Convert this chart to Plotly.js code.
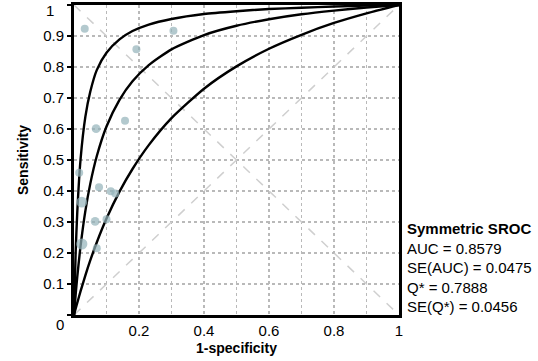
<!DOCTYPE html>
<html>
<head>
<meta charset="utf-8">
<script src="https://cdn.plot.ly/plotly-3.0.1.min.js"></script>
<style>html,body{margin:0;padding:0;background:#fff;}#chart{width:538px;height:361px;}</style>
</head>
<body>
<div id="chart"></div>
<script>
// Study points (1-specificity, sensitivity)
const studyFpr  = [0.033, 0.192, 0.306, 0.068, 0.157, 0.016, 0.077, 0.113, 0.127, 0.024, 0.065, 0.100, 0.024, 0.070];
const studySens = [0.923, 0.857, 0.917, 0.601, 0.627, 0.459, 0.412, 0.399, 0.392, 0.364, 0.302, 0.309, 0.229, 0.215];
const studyWeight = [1, 1, 1, 1.1, 1, 1, 1, 1, 1, 1.35, 1.1, 1, 1.4, 1];

// SROC curves
const curveX     = [0, 0.005, 0.01, 0.02, 0.035, 0.05, 0.07, 0.10, 0.14, 0.18, 0.23, 0.30, 0.40, 0.50, 0.60, 0.70, 0.80, 0.90, 1];
const upperCurve = [0, 0.20, 0.33, 0.50, 0.64, 0.72, 0.79, 0.846, 0.889, 0.916, 0.937, 0.955, 0.971, 0.980, 0.987, 0.991, 0.995, 0.998, 1];
const midCurve   = [0, 0.065, 0.123, 0.221, 0.336, 0.423, 0.512, 0.608, 0.694, 0.754, 0.806, 0.857, 0.903, 0.933, 0.954, 0.970, 0.982, 0.992, 1];
const lowerCurve = [0, 0.02, 0.039, 0.076, 0.128, 0.176, 0.234, 0.311, 0.398, 0.471, 0.548, 0.635, 0.730, 0.802, 0.859, 0.904, 0.942, 0.973, 1];

// Axis ticks
const tickVals = [0, 0.1, 0.2, 0.3, 0.4, 0.5, 0.6, 0.7, 0.8, 0.9, 1];
const xTickText = ['', '', '0.2', '', '0.4', '', '0.6', '', '0.8', '', '1'];
const yTickText = ['', '0.1', '0.2', '0.3', '0.4', '0.5', '0.6', '0.7', '0.8', '0.9', ''];

const statsLines = ['<b>Symmetric SROC</b>', 'AUC = 0.8579', 'SE(AUC) = 0.0475', 'Q* = 0.7888', 'SE(Q*) = 0.0456'];

const FONT = 'Liberation Sans, Arial, sans-serif';
const gridColor = '#b9b9b9';
const diagStyle = {color: '#cfcfcf', width: 1.5, dash: 'dash'};
const curveStyle = {color: '#000000', width: 2.4, shape: 'spline', smoothing: 0.6};

const traces = [
  {x: [0, 1], y: [0, 1], mode: 'lines', line: diagStyle, hoverinfo: 'skip'},
  {x: [0, 1], y: [1, 0], mode: 'lines', line: diagStyle, hoverinfo: 'skip'},
  {x: curveX, y: upperCurve, mode: 'lines', line: curveStyle},
  {x: curveX, y: midCurve, mode: 'lines', line: curveStyle},
  {x: curveX, y: lowerCurve, mode: 'lines', line: curveStyle},
  {x: studyFpr, y: studySens, mode: 'markers',
   marker: {color: '#93b2b9', size: studyWeight.map(w => 8 * w), line: {width: 0}}}
];

const axisCommon = {
  range: [0, 1], tickmode: 'array', tickvals: tickVals,
  showline: true, linecolor: '#000', linewidth: 3, mirror: true,
  showgrid: true, gridcolor: gridColor, gridwidth: 1.5, griddash: 'dot',
  zeroline: false, fixedrange: true,
  tickfont: {family: FONT, size: 15, color: '#000'}
};

const layout = {
  width: 538, height: 361,
  margin: {l: 74, r: 139, t: 5, b: 46, pad: 0},
  paper_bgcolor: '#fff', plot_bgcolor: '#fff',
  showlegend: false,
  xaxis: Object.assign({}, axisCommon, {
    ticktext: xTickText, ticks: '',
    title: {text: '<b>1-specificity</b>', font: {family: FONT, size: 14, color: '#000'}, standoff: 6}
  }),
  yaxis: Object.assign({}, axisCommon, {
    ticktext: yTickText, ticks: 'outside', ticklen: 4, tickwidth: 2, tickcolor: '#000',
    title: {text: '<b>Sensitivity</b>', font: {family: FONT, size: 14, color: '#000'}, standoff: 12}
  }),
  annotations: [
    {xref: 'x', yref: 'y', x: 0, y: 0, text: '0', showarrow: false, xanchor: 'center', yanchor: 'middle',
     xshift: -14, yshift: -9, font: {family: FONT, size: 15, color: '#000'}},
    {xref: 'x', yref: 'y', x: 0, y: 1, text: '1', showarrow: false, xanchor: 'center', yanchor: 'top',
     xshift: -24, yshift: 5, font: {family: FONT, size: 15, color: '#000'}},
    {xref: 'paper', yref: 'paper', x: 1, y: 0.1535, xanchor: 'left', yanchor: 'middle', xshift: 6,
     text: statsLines.join('<br>'), align: 'left', showarrow: false,
     font: {family: FONT, size: 15, color: '#000'}}
  ]
};

Plotly.newPlot('chart', traces, layout, {displayModeBar: false, staticPlot: true});
</script>
</body>
</html>
